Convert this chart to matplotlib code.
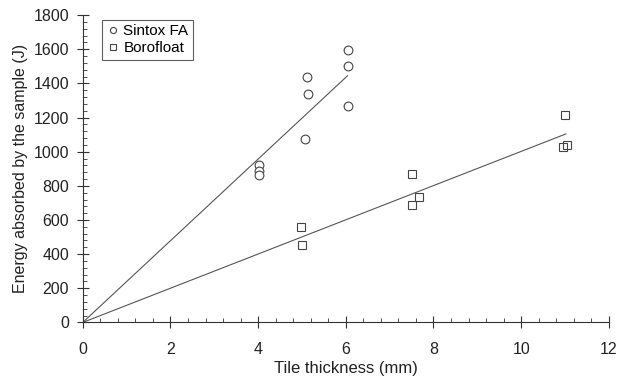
import matplotlib
matplotlib.use("Agg")
from matplotlib import pyplot as plt
from matplotlib.ticker import MultipleLocator

plt.rcParams['font.family'] = ['Liberation Sans', 'DejaVu Sans']

# Sintox FA
sintox_x = [4.03, 4.01, 4.02, 5.08, 5.13, 5.12, 6.05, 6.05, 6.05]
sintox_y = [922, 885, 865, 1074, 1340, 1435, 1265, 1500, 1595]
# Borofloat
boro_x = [4.97, 4.99, 7.52, 7.67, 7.51, 11.0, 10.96, 11.04]
boro_y = [559, 455, 868, 737, 686, 1215, 1025, 1040]

# fitted lines through origin
sintox_fit_x = [0, 6.04]
sintox_fit_y = [0, 1445]
boro_fit_x = [0, 11.02]
boro_fit_y = [0, 1104]

fig = plt.figure(figsize=(6.27, 3.78), dpi=100)
ax = fig.add_axes([0.132, 0.147, 0.839, 0.813])

ax.plot(sintox_fit_x, sintox_fit_y, c='#555555', lw=0.8)
ax.plot(boro_fit_x, boro_fit_y, c='#555555', lw=0.8)
ax.plot(sintox_x, sintox_y, 'o', mfc='white', mec='#444444', ms=6.3, mew=0.8, ls='none', label='Sintox FA')
ax.plot(boro_x, boro_y, 's', mfc='none', mec='#444444', ms=6.3, mew=0.8, ls='none', label='Borofloat')

ax.set_xlim(0, 12)
ax.set_ylim(0, 1800)
ax.xaxis.set_major_locator(MultipleLocator(2))
ax.xaxis.set_minor_locator(MultipleLocator(0.4))
ax.yaxis.set_major_locator(MultipleLocator(200))
ax.yaxis.set_minor_locator(MultipleLocator(40))
ax.tick_params(which='major', direction='inout', length=8, width=0.8, colors='#333333', labelsize=11.5)
ax.tick_params(axis='x', which='major', pad=10)
ax.tick_params(axis='y', which='major', pad=6)
ax.tick_params(which='minor', direction='in', length=3, width=0.6, colors='#333333')
ax.tick_params(labelcolor='#222222')
for s in ['top', 'right']:
    ax.spines[s].set_visible(False)
for s in ['left', 'bottom']:
    ax.spines[s].set_color('#333333')
    ax.spines[s].set_linewidth(0.8)

ax.set_xlabel('Tile thickness (mm)', fontsize=12, color='#222222', labelpad=3)
ax.set_ylabel('Energy absorbed by the sample (J)', fontsize=11.5, color='#222222', labelpad=4)

leg = ax.legend(loc='upper left', bbox_to_anchor=(0.022, 1.01), frameon=True, fancybox=False,
                edgecolor='#333333', fontsize=11, handletextpad=0.2, borderpad=0.3,
                handlelength=0.9, labelspacing=0.2, markerscale=0.7)
leg.get_frame().set_linewidth(0.8)

fig.savefig('out.png', dpi=100)
